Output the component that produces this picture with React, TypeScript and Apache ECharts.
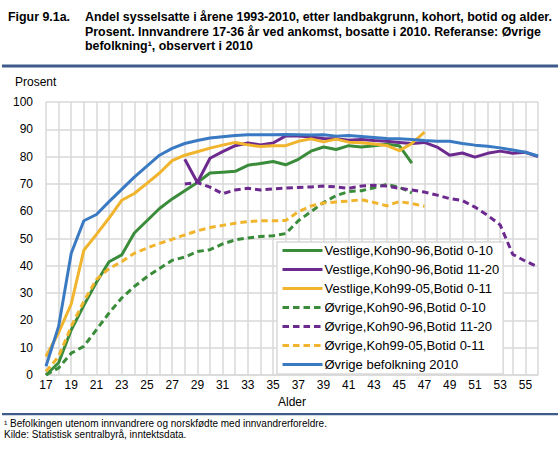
import React, { useEffect, useRef } from "react";
import * as echarts from "echarts";

const ages = [
  "17", "18", "19", "20", "21", "22", "23", "24", "25", "26",
  "27", "28", "29", "30", "31", "32", "33", "34", "35", "36",
  "37", "38", "39", "40", "41", "42", "43", "44", "45", "46",
  "47", "48", "49", "50", "51", "52", "53", "54", "55", "56",
];

// Vestlige, Koh90-96, Botid 0-10 (ages 17-46)
const vestKoh9096B010 = [
  0, 4.5, 16.5, 25.5, 34, 41.5, 44, 52, 56.5, 61,
  64.5, 67.5, 70.5, 74, 74.3, 74.6, 76.8, 77.5, 78.2, 77,
  79, 82, 83.5, 82.6, 84, 83.5, 84, 84.5, 84, 77.6,
];
// Vestlige, Koh90-96, Botid 11-20 (ages 28-56)
const vestKoh9096B1120 = [
  79, 70.5, 79.4, 81.8, 84, 85, 84.3, 85, 87.6, 87.5,
  87.2, 86.6, 86.5, 86, 86.3, 85.9, 85.6, 85.2, 84.8, 85.2,
  83.5, 80.5, 81.3, 79.8, 81.2, 82, 81.2, 81.6, 80,
];
// Vestlige, Koh99-05, Botid 0-11 (ages 17-47)
const vestKoh9905B011 = [
  6.8, 15.5, 26, 45.7, 51.5, 57.5, 64, 66.5, 70.2, 74,
  78.5, 80.5, 81.8, 83.1, 84.2, 85.2, 84.3, 83.7, 84, 84,
  85.6, 86.5, 85.4, 86.4, 85.3, 85.1, 84.6, 84.1, 82.2, 84.8,
  89,
];
// Øvrige, Koh90-96, Botid 0-10 (ages 17-46)
const ovrKoh9096B010 = [
  0, 2.6, 8, 10.5, 16.6, 22.7, 28.2, 32.4, 36, 39,
  42, 43.2, 45.2, 45.9, 48, 49.5, 50.2, 50.7, 51, 51.8,
  56.5, 59.8, 63.2, 65.7, 67.2, 67.5, 68.6, 69.8, 68.8, 66.7,
];
// Øvrige, Koh90-96, Botid 11-20 (ages 28-56)
const ovrKoh9096B1120 = [
  70, 70.5, 68.8, 66.4, 67.8, 68.4, 67.8, 68.2, 68.5, 68.7,
  68.9, 69.2, 68.9, 68.4, 69.2, 69.5, 69.2, 68.4, 67.8, 67,
  65.9, 64.6, 63.9, 61.5, 58.5, 55, 44.2, 41.7, 39.6,
];
// Øvrige, Koh99-05, Botid 0-11 (ages 17-47)
const ovrKoh9905B011 = [
  1.3, 6.8, 17.8, 27, 35, 39, 41.5, 44.6, 46.5, 48.2,
  49.7, 51.3, 52.8, 54, 54.8, 55.6, 56.2, 56.5, 56.5, 56.6,
  59.8, 61.9, 63, 63.4, 63.7, 64.2, 63.2, 62, 63.5, 62.8,
  61.8,
];
// Øvrige befolkning 2010 (ages 17-56)
const ovrBefolkning2010 = [
  3.2, 17.8, 44.6, 56.5, 58.8, 63.5, 68, 72.5, 76.5, 80.5,
  83, 84.8, 85.9, 86.8, 87.3, 87.7, 88, 88, 88, 88.1,
  88, 87.9, 88, 87.5, 87.7, 87.4, 87, 86.6, 86.5, 86.3,
  85.9, 85.6, 85.6, 84.8, 84.2, 83.8, 83.2, 82.4, 81.6, 80.2,
];

const seriesDefs = [
  { name: "Vestlige,Koh90-96,Botid 0-10", start: "17", values: vestKoh9096B010, color: "#3a8c3a", dashed: false },
  { name: "Vestlige,Koh90-96,Botid 11-20", start: "28", values: vestKoh9096B1120, color: "#6c2a8e", dashed: false },
  { name: "Vestlige,Koh99-05,Botid 0-11", start: "17", values: vestKoh9905B011, color: "#f0b42d", dashed: false },
  { name: "Øvrige,Koh90-96,Botid 0-10", start: "17", values: ovrKoh9096B010, color: "#3a8c3a", dashed: true },
  { name: "Øvrige,Koh90-96,Botid 11-20", start: "28", values: ovrKoh9096B1120, color: "#6c2a8e", dashed: true },
  { name: "Øvrige,Koh99-05,Botid 0-11", start: "17", values: ovrKoh9905B011, color: "#f0b42d", dashed: true },
  { name: "Øvrige befolkning 2010", start: "17", values: ovrBefolkning2010, color: "#3a7ac3", dashed: false },
];

const titleLabel = "Figur 9.1a.";
const titleLines = [
  "Andel sysselsatte i årene 1993-2010, etter landbakgrunn, kohort, botid og alder.",
  "Prosent. Innvandrere 17-36 år ved ankomst, bosatte i 2010. Referanse: Øvrige",
  "befolkning¹, observert i 2010",
];
const footLines = [
  "¹ Befolkingen utenom innvandrere og norskfødte med innvandrerforeldre.",
  "Kilde: Statistisk sentralbyrå, inntektsdata.",
];

const FONT = "'Liberation Sans', Arial, sans-serif";

function alignToAges(start: string, values: number[]) {
  const offset = ages.indexOf(start);
  return ages.map((_, i) => {
    const j = i - offset;
    return j >= 0 && j < values.length ? values[j] : null;
  });
}

export default function App() {
  const ref = useRef<HTMLDivElement>(null);

  useEffect(() => {
    document.body.style.margin = "0";
    if (!ref.current) return;
    const chart = echarts.init(ref.current, undefined, { renderer: "svg" });

    const graphics: any[] = [];
    graphics.push({
      type: "text",
      left: 8,
      top: 11,
      style: { text: titleLabel, font: `bold 12.4px ${FONT}`, fill: "#000" },
    });
    titleLines.forEach((t, i) => {
      graphics.push({
        type: "text",
        left: 85,
        top: 11 + i * 14.5,
        style: { text: t, font: `bold 12.4px ${FONT}`, fill: "#000" },
      });
    });
    graphics.push({
      type: "rect",
      shape: { x: 2, y: 64.5, width: 556, height: 3 },
      style: { fill: "#3f5b8c" },
    });
    graphics.push({
      type: "rect",
      shape: { x: 2, y: 413, width: 556, height: 2.2 },
      style: { fill: "#3f5b8c" },
    });
    footLines.forEach((t, i) => {
      graphics.push({
        type: "text",
        left: 4,
        top: 418 + i * 11.2,
        style: { text: t, font: `10px ${FONT}`, fill: "#000" },
      });
    });
    graphics.push({
      type: "text",
      left: 15,
      top: 76,
      style: { text: "Prosent", font: `12px ${FONT}`, fill: "#000" },
    });

    chart.setOption({
      animation: false,
      textStyle: { fontFamily: FONT },
      grid: { left: 46, right: 22, top: 102, bottom: 80, containLabel: false },
      xAxis: {
        type: "category",
        data: ages,
        boundaryGap: false,
        name: "Alder",
        nameLocation: "middle",
        nameGap: 21,
        nameTextStyle: { color: "#000", fontSize: 12, fontFamily: FONT },
        axisLine: { show: true, lineStyle: { color: "#d9d9d9", width: 1.5 } },
        axisTick: { show: false },
        axisLabel: { interval: 1, color: "#000", fontSize: 12, margin: 4, fontFamily: FONT },
        splitLine: { show: true, interval: 0, lineStyle: { color: "#d9d9d9", width: 1.5 } },
      },
      yAxis: {
        type: "value",
        min: 0,
        max: 100,
        interval: 10,
        axisLine: { show: false },
        axisTick: { show: false },
        axisLabel: { color: "#000", fontSize: 12, margin: 13, fontFamily: FONT },
        splitLine: { show: true, lineStyle: { color: "#d9d9d9", width: 1.5 } },
      },
      legend: {
        orient: "vertical",
        left: 277,
        top: 242,
        padding: [2, 4, 3, 4],
        itemWidth: 40,
        itemHeight: 14,
        itemGap: 6,
        backgroundColor: "#fff",
        borderColor: "#d9d9d9",
        borderWidth: 1.5,
        itemStyle: { opacity: 0 },
        lineStyle: { width: 3 },
        textStyle: { color: "#000", fontSize: 13, fontFamily: FONT, padding: [0, 0, 0, -3] },
        data: seriesDefs.map((s) => s.name),
      },
      series: seriesDefs.map((s) => ({
        name: s.name,
        type: "line",
        data: alignToAges(s.start, s.values),
        symbol: "none",
        showSymbol: false,
        connectNulls: false,
        lineStyle: {
          color: s.color,
          width: 3,
          type: s.dashed ? [6.5, 4] : "solid",
          cap: "butt",
        },
        itemStyle: { color: s.color },
        z: 2,
      })),
      graphic: graphics,
    });

    return () => chart.dispose();
  }, []);

  return (
    <div
      ref={ref}
      style={{ position: "fixed", left: 0, top: 0, width: 560, height: 455, background: "#fff" }}
    />
  );
}
